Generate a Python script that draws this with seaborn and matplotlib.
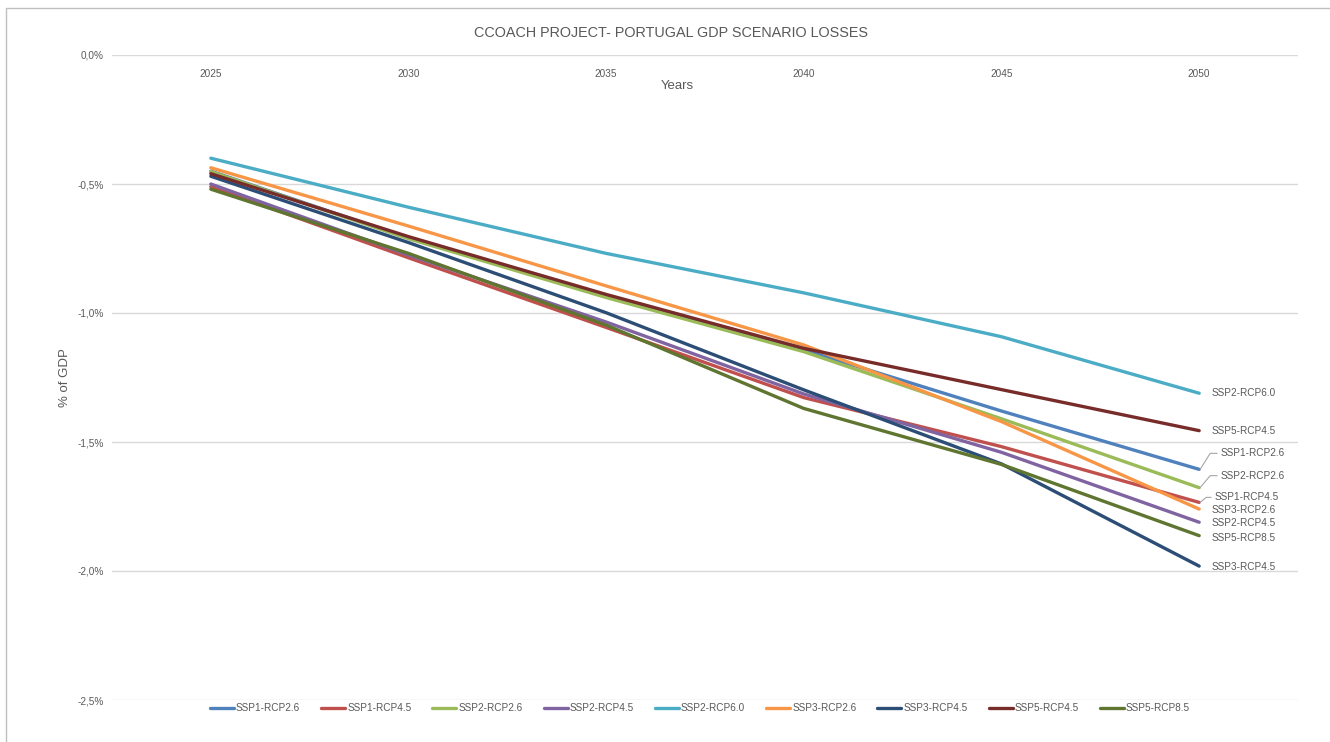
import matplotlib
matplotlib.use("Agg")
import matplotlib.pyplot as plt
import seaborn as sns
import pandas as pd
from matplotlib.lines import Line2D
from matplotlib.patches import Rectangle
from matplotlib.transforms import IdentityTransform

years = ['2025', '2030', '2035', '2040', '2045', '2050']
scenarios = ['SSP1-RCP2.6', 'SSP1-RCP4.5', 'SSP2-RCP2.6', 'SSP2-RCP4.5', 'SSP2-RCP6.0',
             'SSP3-RCP2.6', 'SSP3-RCP4.5', 'SSP5-RCP4.5', 'SSP5-RCP8.5']

ssp1_rcp26 = [-0.450, -0.710, -0.935, -1.143, -1.380, -1.606]
ssp1_rcp45 = [-0.510, -0.786, -1.056, -1.328, -1.518, -1.734]
ssp2_rcp26 = [-0.452, -0.712, -0.940, -1.150, -1.410, -1.677]
ssp2_rcp45 = [-0.500, -0.775, -1.035, -1.314, -1.540, -1.811]
ssp2_rcp60 = [-0.400, -0.590, -0.769, -0.922, -1.092, -1.311]
ssp3_rcp26 = [-0.437, -0.663, -0.895, -1.124, -1.421, -1.760]
ssp3_rcp45 = [-0.470, -0.727, -0.999, -1.298, -1.585, -1.981]
ssp5_rcp45 = [-0.460, -0.704, -0.928, -1.137, -1.297, -1.456]
ssp5_rcp85 = [-0.520, -0.769, -1.047, -1.370, -1.587, -1.863]

series = [ssp1_rcp26, ssp1_rcp45, ssp2_rcp26, ssp2_rcp45, ssp2_rcp60,
          ssp3_rcp26, ssp3_rcp45, ssp5_rcp45, ssp5_rcp85]

colors = ['#4F81BD', '#C0504D', '#9BBB59', '#8064A2', '#4BACC6',
          '#F79646', '#2C4D75', '#772C2A', '#5F7530']

y_ticks = [0.0, -0.5, -1.0, -1.5, -2.0, -2.5]
y_ticklabels = ['0,0%', '-0,5%', '-1,0%', '-1,5%', '-2,0%', '-2,5%']

rows = []
for name, vals in zip(scenarios, series):
    for yr, v in zip(years, vals):
        rows.append({'Year': yr, 'Scenario': name, 'Value': v})
df = pd.DataFrame(rows)

sns.set_theme(style='white')
FONT = ['Liberation Sans', 'DejaVu Sans']
plt.rcParams['font.family'] = FONT
GREY = '#595959'
SMALL = 7.2

fig = plt.figure(figsize=(13.3, 7.42), dpi=100)
W, H = 1330, 742
ax = fig.add_axes([112 / W, 1 - 700 / H, 1186 / W, 645 / H])

palette = dict(zip(scenarios, colors))
sns.lineplot(data=df, x='Year', y='Value', hue='Scenario', hue_order=scenarios,
             palette=palette, linewidth=2.4, ax=ax, legend=False, sort=False)

ax.set_xlim(-0.5, 5.5)
ax.set_ylim(-2.5, 0.0)
ax.set_yticks(y_ticks)
ax.set_yticklabels(y_ticklabels)
ax.set_xticks(range(len(years)))
ax.set_xticklabels(years)
ax.xaxis.set_ticks_position('top')
ax.xaxis.set_label_position('top')
ax.tick_params(axis='x', length=0, pad=-17, labelsize=SMALL, labelcolor=GREY)
ax.tick_params(axis='y', length=0, pad=6, labelsize=SMALL, labelcolor=GREY)
ax.set_xlabel('')
ax.set_ylabel('')
for s in ax.spines.values():
    s.set_visible(False)
ax.grid(axis='y', color='#D9D9D9', linewidth=1.0)
ax.grid(axis='x', visible=False)
ax.set_axisbelow(True)
for l in ax.lines:
    l.set_clip_on(False)

# titles
fig.text(671 / W, 1 - 33 / H, 'CCOACH PROJECT- PORTUGAL GDP SCENARIO LOSSES',
         ha='center', va='center', fontsize=10.4, color=GREY)
fig.text(677 / W, 1 - 86 / H, 'Years', ha='center', va='center', fontsize=9.5, color=GREY)
fig.text(65 / W, 1 - 378 / H, '% of GDP', ha='center', va='center', rotation=90,
         fontsize=9.5, color=GREY)

# chart border
fig.add_artist(Rectangle((6 / W, -0.01), 1.02, 1 - 8 / H + 0.01, transform=fig.transFigure,
                         fill=False, edgecolor='#BFBFBF', linewidth=1.0))

# data labels at the end of each line (offsets in pixels)
label_offsets = {
    'SSP2-RCP6.0': (12, 0, False),
    'SSP5-RCP4.5': (12, 0, False),
    'SSP1-RCP2.6': (21, 16, True),
    'SSP2-RCP2.6': (21, 12, True),
    'SSP1-RCP4.5': (15, 5, True),
    'SSP3-RCP2.6': (12, -1, False),
    'SSP2-RCP4.5': (12, -1, False),
    'SSP5-RCP8.5': (12, -2, False),
    'SSP3-RCP4.5': (12, -1, False),
}
last_idx = len(years) - 1
for name, vals in zip(scenarios, series):
    dx, dy, leader = label_offsets[name]
    px, py = ax.transData.transform((last_idx, vals[-1]))
    ax.annotate(name, xy=(last_idx, vals[-1]), xytext=(dx, dy), textcoords='offset pixels',
                ha='left', va='center', fontsize=SMALL, color=GREY, annotation_clip=False)
    if leader:
        xs = [px + 1, px + dx - 10 if dx > 16 else px + dx - 8, px + dx - 3]
        ys = [py, py + dy, py + dy]
        fig.add_artist(Line2D(xs, ys, transform=IdentityTransform(), color='#A6A6A6',
                              linewidth=0.8))

# legend
handles = [Line2D([0], [0], color=c, linewidth=2.4) for c in colors]
fig.legend(handles, scenarios, loc='center', bbox_to_anchor=(700 / W, 1 - 708 / H),
           ncol=9, frameon=False, fontsize=SMALL, labelcolor=GREY, handlelength=2.4,
           handletextpad=0.2, columnspacing=2.1)

fig.savefig('out.png', dpi=100, facecolor='white')
